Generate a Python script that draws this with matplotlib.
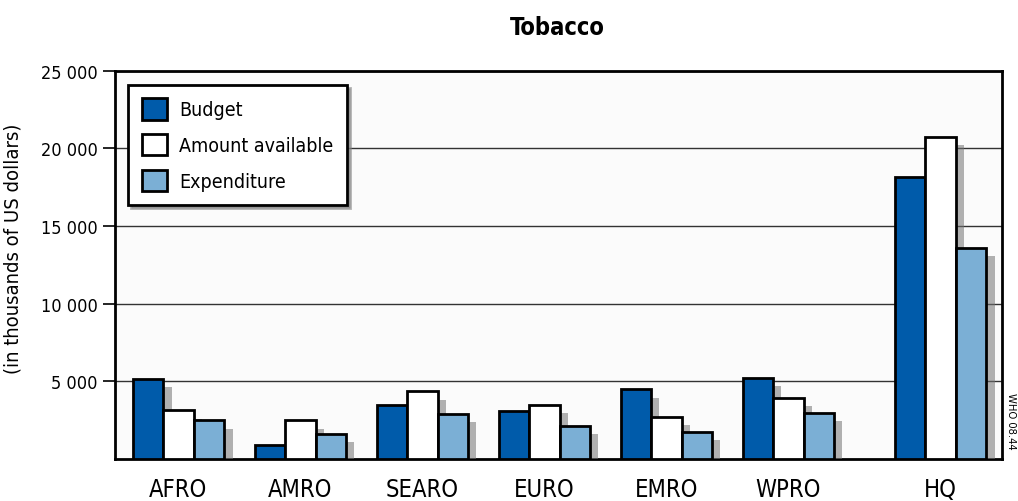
import numpy as np
import matplotlib.pyplot as plt
import matplotlib.patheffects as pe

plt.rcParams['font.family'] = ['DejaVu Sans']
plt.rcParams['font.stretch'] = 'condensed'

regions = ['AFRO', 'AMRO', 'SEARO', 'EURO', 'EMRO', 'WPRO', 'HQ']
budget = [5150, 900, 3480, 3050, 4470, 5220, 18150]
available = [3120, 2470, 4340, 3500, 2690, 3950, 20730]
expenditure = [2480, 1600, 2900, 2130, 1720, 2960, 13580]

fig = plt.figure(figsize=(10.18, 5.02), dpi=100)
ax = fig.add_axes([0.113, 0.084, 0.871, 0.773])

x = np.arange(len(regions), dtype=float)
x[-1] += 0.25
w = 0.25
shadow = [pe.SimplePatchShadow(offset=(6, -6), shadow_rgbFace='0.45', alpha=0.55), pe.Normal()]

for off, vals, col, lab in [(-w, budget, '#005BAA', 'Budget'),
                            (0, available, 'white', 'Amount available'),
                            (w, expenditure, '#7BAFD5', 'Expenditure')]:
    bars = ax.bar(x + off, vals, w, color=col, edgecolor='black', linewidth=2, label=lab, zorder=3)
    for b in bars:
        b.set_path_effects(shadow)

ax.set_xlim(-0.52, 6.75)
ax.set_ylim(0, 25000)
ax.set_yticks([5000, 10000, 15000, 20000, 25000])
ax.set_yticklabels(['5 000', '10 000', '15 000', '20 000', '25 000'], fontsize=13)
ax.set_xticks(x)
ax.set_xticklabels(regions, fontsize=17)
ax.tick_params(axis='x', length=0, pad=13)
ax.tick_params(axis='y', length=9, width=1.2, direction='out')
ax.yaxis.grid(True, color='#333333', linewidth=1.0, zorder=0)
ax.set_axisbelow(True)
for s in ax.spines.values():
    s.set_linewidth(2)
ax.set_facecolor('#fbfbfb')
ax.set_ylabel('(in thousands of US dollars)', fontsize=14.5)
ax.yaxis.set_label_coords(-0.104, 0.544)

fig.text(0.547, 0.945, 'Tobacco', ha='center', va='center', fontsize=17, fontweight='bold')
fig.text(0.993, 0.16, 'WHO 08.44', rotation=-90, ha='center', va='center', fontsize=8)

leg = ax.legend(loc='upper left', bbox_to_anchor=(0.015, 0.964), borderaxespad=0,
                fontsize=14, frameon=True, fancybox=False, shadow={'color': '0.5', 'alpha': 0.6},
                handlelength=1.3, handleheight=1.3, borderpad=0.7, labelspacing=0.75,
                handletextpad=0.6)
leg.get_frame().set_edgecolor('black')
leg.get_frame().set_linewidth(2)
for h in leg.legend_handles:
    h.set_path_effects([])

fig.savefig('out.png', dpi=100)
